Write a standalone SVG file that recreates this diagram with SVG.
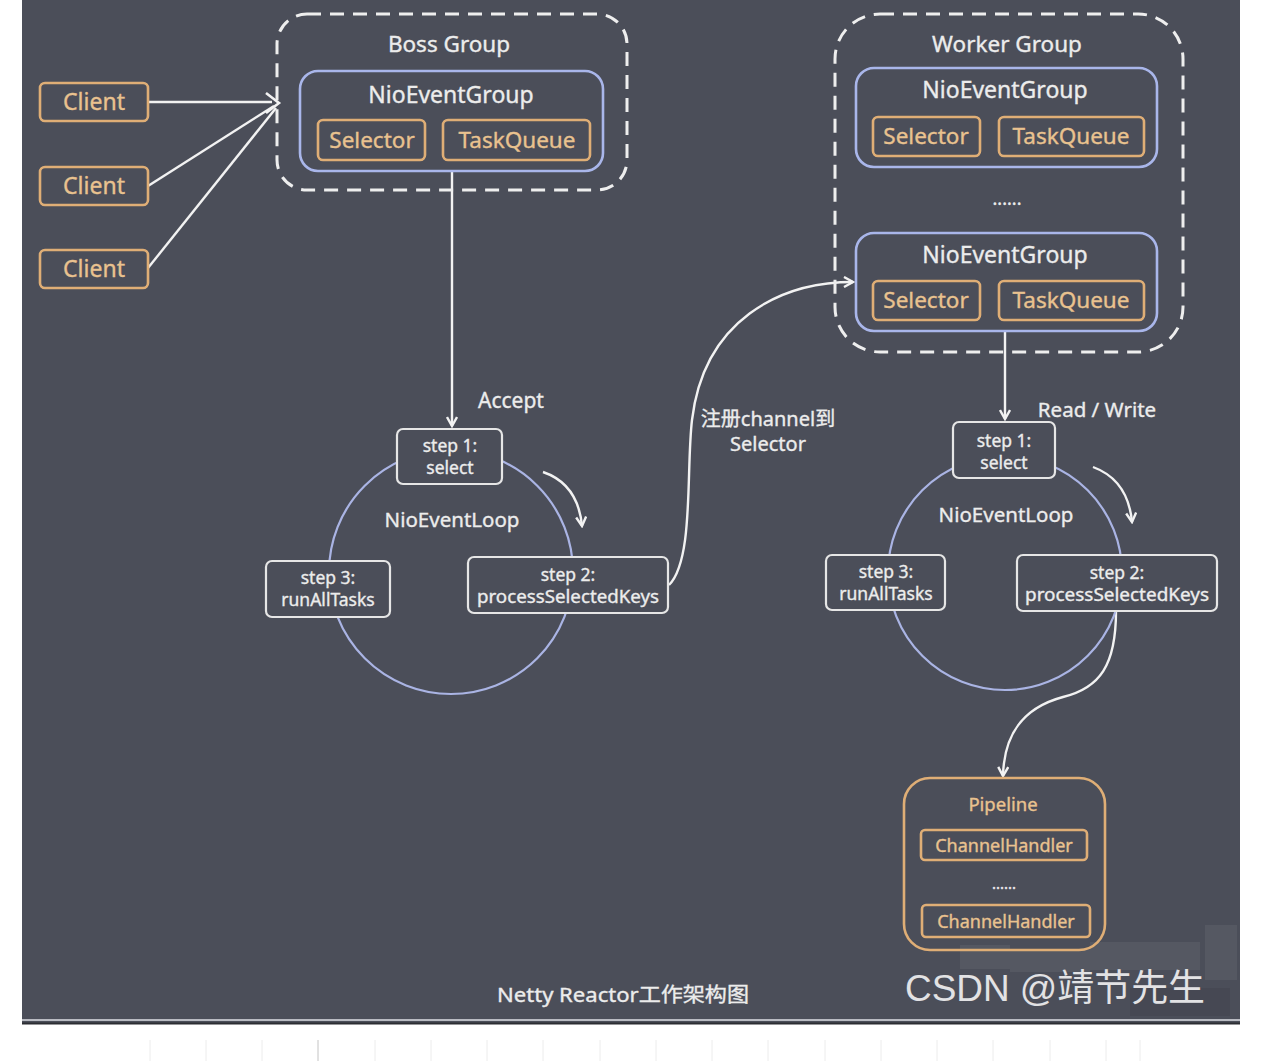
<svg xmlns="http://www.w3.org/2000/svg" width="1284" height="1061" viewBox="0 0 1284 1061">
  <style>
    .lbl { font-family: "Noto Sans", "Noto Sans CJK SC", sans-serif; fill: #ececec; stroke: #ececec; stroke-width: 0.35; text-anchor: middle; }
    .org { font-family: "Noto Sans", "Noto Sans CJK SC", sans-serif; fill: #e9c28f; stroke: #e9c28f; stroke-width: 0.35; text-anchor: middle; }
    .obox { fill: none; stroke: #dfae76; stroke-width: 2.6; }
    .bbox { fill: none; stroke: #a9b6ea; stroke-width: 2.6; }
    .wbox { fill: #4b4e59; stroke: #e6e6e6; stroke-width: 2.2; }
    .dash { fill: none; stroke: #eeeeee; stroke-width: 3; stroke-dasharray: 14 9; }
    .ring { fill: none; stroke: #aab4e4; stroke-width: 2.2; }
    .wire { fill: none; stroke: #f2f2f2; stroke-width: 2.4; }
    .arr { fill: none; stroke: #f2f2f2; stroke-width: 2.4; marker-end: url(#head); }
    .step { font-size: 17.5px; }
  </style>
  <defs>
    <marker id="head" viewBox="0 0 12 12" refX="10" refY="6" markerWidth="12" markerHeight="12" markerUnits="userSpaceOnUse" orient="auto">
      <path d="M1,1 L10,6 L1,11" fill="none" stroke="#f2f2f2" stroke-width="2.4" stroke-linejoin="miter"/>
    </marker>
  </defs>

  <!-- page -->
  <rect x="0" y="0" width="1284" height="1061" fill="#ffffff"/>
  <!-- faint table rule under the figure -->
  <g stroke="#ececec" stroke-width="1">
    <line x1="150" y1="1040" x2="150" y2="1061"/>
    <line x1="206" y1="1040" x2="206" y2="1061"/>
    <line x1="262" y1="1040" x2="262" y2="1061"/>
    <line x1="375" y1="1040" x2="375" y2="1061"/>
    <line x1="431" y1="1040" x2="431" y2="1061"/>
    <line x1="487" y1="1040" x2="487" y2="1061"/>
    <line x1="543" y1="1040" x2="543" y2="1061"/>
    <line x1="600" y1="1040" x2="600" y2="1061"/>
    <line x1="656" y1="1040" x2="656" y2="1061"/>
    <line x1="712" y1="1040" x2="712" y2="1061"/>
    <line x1="768" y1="1040" x2="768" y2="1061"/>
    <line x1="825" y1="1040" x2="825" y2="1061"/>
    <line x1="881" y1="1040" x2="881" y2="1061"/>
    <line x1="937" y1="1040" x2="937" y2="1061"/>
    <line x1="993" y1="1040" x2="993" y2="1061"/>
    <line x1="1050" y1="1040" x2="1050" y2="1061"/>
    <line x1="1106" y1="1040" x2="1106" y2="1061"/>
    <line x1="1140" y1="1040" x2="1140" y2="1061"/>
  </g>
  <line x1="318" y1="1040" x2="318" y2="1061" stroke="#c4c4c4" stroke-width="1"/>

  <!-- figure panel -->
  <rect x="22" y="0" width="1218" height="1024" fill="#4b4e59"/>
  <line x1="22" y1="1020" x2="1240" y2="1020" stroke="#b9bbc2" stroke-width="2"/>
  <line x1="22" y1="1023.5" x2="1240" y2="1023.5" stroke="#2c2d33" stroke-width="2"/>
  <!-- mosaic behind the watermark -->
  <g fill="#62656f" opacity="0.45">
    <rect x="960" y="945" width="50" height="24"/>
    <rect x="1010" y="950" width="80" height="22"/>
    <rect x="1090" y="942" width="110" height="28"/>
    <rect x="1205" y="925" width="32" height="55"/>
  </g>
  <g fill="#40424b" opacity="0.45">
    <rect x="1130" y="988" width="100" height="28"/>
  </g>

  <!-- connectors -->
  <g id="connectors">
    <line class="wire" x1="148" y1="102" x2="272" y2="102"/>
    <line class="wire" x1="148" y1="186" x2="274" y2="106"/>
    <line class="wire" x1="148" y1="268" x2="276" y2="108"/>
    <path d="M266,93 L279,103 L266,113" fill="none" stroke="#f2f2f2" stroke-width="2.6"/>
    <path class="arr" d="M452,171 L452,426"/>
    <path class="arr" d="M543,472 Q578,484 582,526"/>
    <path class="arr" d="M669,585 C694,560 686,470 692,420 C704,320 780,282 853,282"/>
    <path class="arr" d="M1005,331 L1005,419"/>
    <path class="arr" d="M1093,467 Q1128,480 1132,522"/>
    <path class="arr" d="M1116,611 C1116,665 1100,688 1063,697 C1022,708 1004,735 1003,776"/>
  </g>
  <text class="lbl" x="511" y="408" font-size="21">Accept</text>
  <text class="lbl" x="768" y="426" font-size="20">注册channel到</text>
  <text class="lbl" x="768" y="451" font-size="20">Selector</text>
  <text class="lbl" x="1097" y="417" font-size="20.5">Read / Write</text>

  <!-- clients -->
  <g id="client1">
    <rect class="obox" x="40" y="83" width="108" height="38" rx="5"/>
    <text class="org" x="94" y="110" font-size="23">Client</text>
  </g>
  <g id="client2">
    <rect class="obox" x="40" y="167" width="108" height="38" rx="5"/>
    <text class="org" x="94" y="194" font-size="23">Client</text>
  </g>
  <g id="client3">
    <rect class="obox" x="40" y="250" width="108" height="38" rx="5"/>
    <text class="org" x="94" y="277" font-size="23">Client</text>
  </g>

  <!-- boss group -->
  <g id="boss-group">
    <rect class="dash" x="277" y="14" width="350" height="176" rx="30"/>
    <text class="lbl" x="449" y="52" font-size="22.5">Boss Group</text>
    <rect class="bbox" x="300" y="71" width="303" height="100" rx="18"/>
    <text class="lbl" x="451" y="103" font-size="23">NioEventGroup</text>
    <rect class="obox" x="318" y="120" width="107" height="40" rx="5"/>
    <text class="org" x="372" y="148" font-size="22.5">Selector</text>
    <rect class="obox" x="443" y="120" width="147" height="40" rx="5"/>
    <text class="org" x="517" y="148" font-size="22.5">TaskQueue</text>
  </g>

  <!-- worker group -->
  <g id="worker-group">
    <rect class="dash" x="835" y="14" width="348" height="338" rx="45"/>
    <text class="lbl" x="1007" y="52" font-size="22.5">Worker Group</text>
    <rect class="bbox" x="856" y="68" width="301" height="99" rx="18"/>
    <text class="lbl" x="1005" y="98" font-size="23">NioEventGroup</text>
    <rect class="obox" x="873" y="117" width="107" height="39" rx="5"/>
    <text class="org" x="926" y="144" font-size="22.5">Selector</text>
    <rect class="obox" x="999" y="117" width="145" height="39" rx="5"/>
    <text class="org" x="1071" y="144" font-size="22.5">TaskQueue</text>
    <text class="lbl" x="1007" y="205" font-size="18">......</text>
    <rect class="bbox" x="856" y="233" width="301" height="98" rx="18"/>
    <text class="lbl" x="1005" y="263" font-size="23">NioEventGroup</text>
    <rect class="obox" x="873" y="281" width="107" height="39" rx="5"/>
    <text class="org" x="926" y="308" font-size="22.5">Selector</text>
    <rect class="obox" x="999" y="281" width="145" height="39" rx="5"/>
    <text class="org" x="1071" y="308" font-size="22.5">TaskQueue</text>
  </g>

  <!-- boss event loop -->
  <g id="boss-loop">
    <circle class="ring" cx="451" cy="572" r="122"/>
    <text class="lbl" x="452" y="527" font-size="20.5">NioEventLoop</text>
  </g>
  <g id="boss-step1">
    <rect class="wbox" x="397" y="429" width="105" height="55" rx="6"/>
    <text class="lbl step" x="450" y="452">step 1:</text>
    <text class="lbl step" x="450" y="474">select</text>
  </g>
  <g id="boss-step2">
    <rect class="wbox" x="468" y="557" width="200" height="56" rx="6"/>
    <text class="lbl step" x="568" y="581">step 2:</text>
    <text class="lbl step" x="568" y="603" textLength="182" lengthAdjust="spacingAndGlyphs">processSelectedKeys</text>
  </g>
  <g id="boss-step3">
    <rect class="wbox" x="266" y="561" width="124" height="56" rx="6"/>
    <text class="lbl step" x="328" y="584">step 3:</text>
    <text class="lbl step" x="328" y="606">runAllTasks</text>
  </g>

  <!-- worker event loop -->
  <g id="worker-loop">
    <circle class="ring" cx="1005" cy="573" r="117"/>
    <text class="lbl" x="1006" y="522" font-size="20.5">NioEventLoop</text>
  </g>
  <g id="worker-step1">
    <rect class="wbox" x="953" y="422" width="102" height="56" rx="6"/>
    <text class="lbl step" x="1004" y="447">step 1:</text>
    <text class="lbl step" x="1004" y="469">select</text>
  </g>
  <g id="worker-step2">
    <rect class="wbox" x="1017" y="555" width="200" height="56" rx="6"/>
    <text class="lbl step" x="1117" y="579">step 2:</text>
    <text class="lbl step" x="1117" y="601" textLength="184" lengthAdjust="spacingAndGlyphs">processSelectedKeys</text>
  </g>
  <g id="worker-step3">
    <rect class="wbox" x="826" y="555" width="119" height="55" rx="6"/>
    <text class="lbl step" x="886" y="578">step 3:</text>
    <text class="lbl step" x="886" y="600">runAllTasks</text>
  </g>

  <!-- pipeline -->
  <g id="pipeline">
    <rect class="obox" x="904" y="778" width="201" height="172" rx="26"/>
    <text class="org" x="1003" y="811" font-size="18.5">Pipeline</text>
    <rect class="obox" x="921" y="830" width="166" height="30" rx="4"/>
    <text class="org" x="1004" y="852" font-size="18">ChannelHandler</text>
    <text class="lbl" x="1004" y="889" font-size="15">......</text>
    <rect class="obox" x="922" y="905" width="168" height="32" rx="4"/>
    <text class="org" x="1006" y="928" font-size="18">ChannelHandler</text>
  </g>

  <!-- caption and watermark -->
  <text class="lbl" x="623" y="1002" font-size="20" textLength="252" lengthAdjust="spacingAndGlyphs" font-family="Liberation Sans, Noto Sans CJK SC, sans-serif">Netty Reactor工作架构图</text>
  <text x="905" y="1001" font-size="37" fill="#e2e2e4" font-family="Liberation Sans, Noto Sans CJK SC, sans-serif" textLength="300" lengthAdjust="spacingAndGlyphs">CSDN @靖节先生</text>
</svg>
